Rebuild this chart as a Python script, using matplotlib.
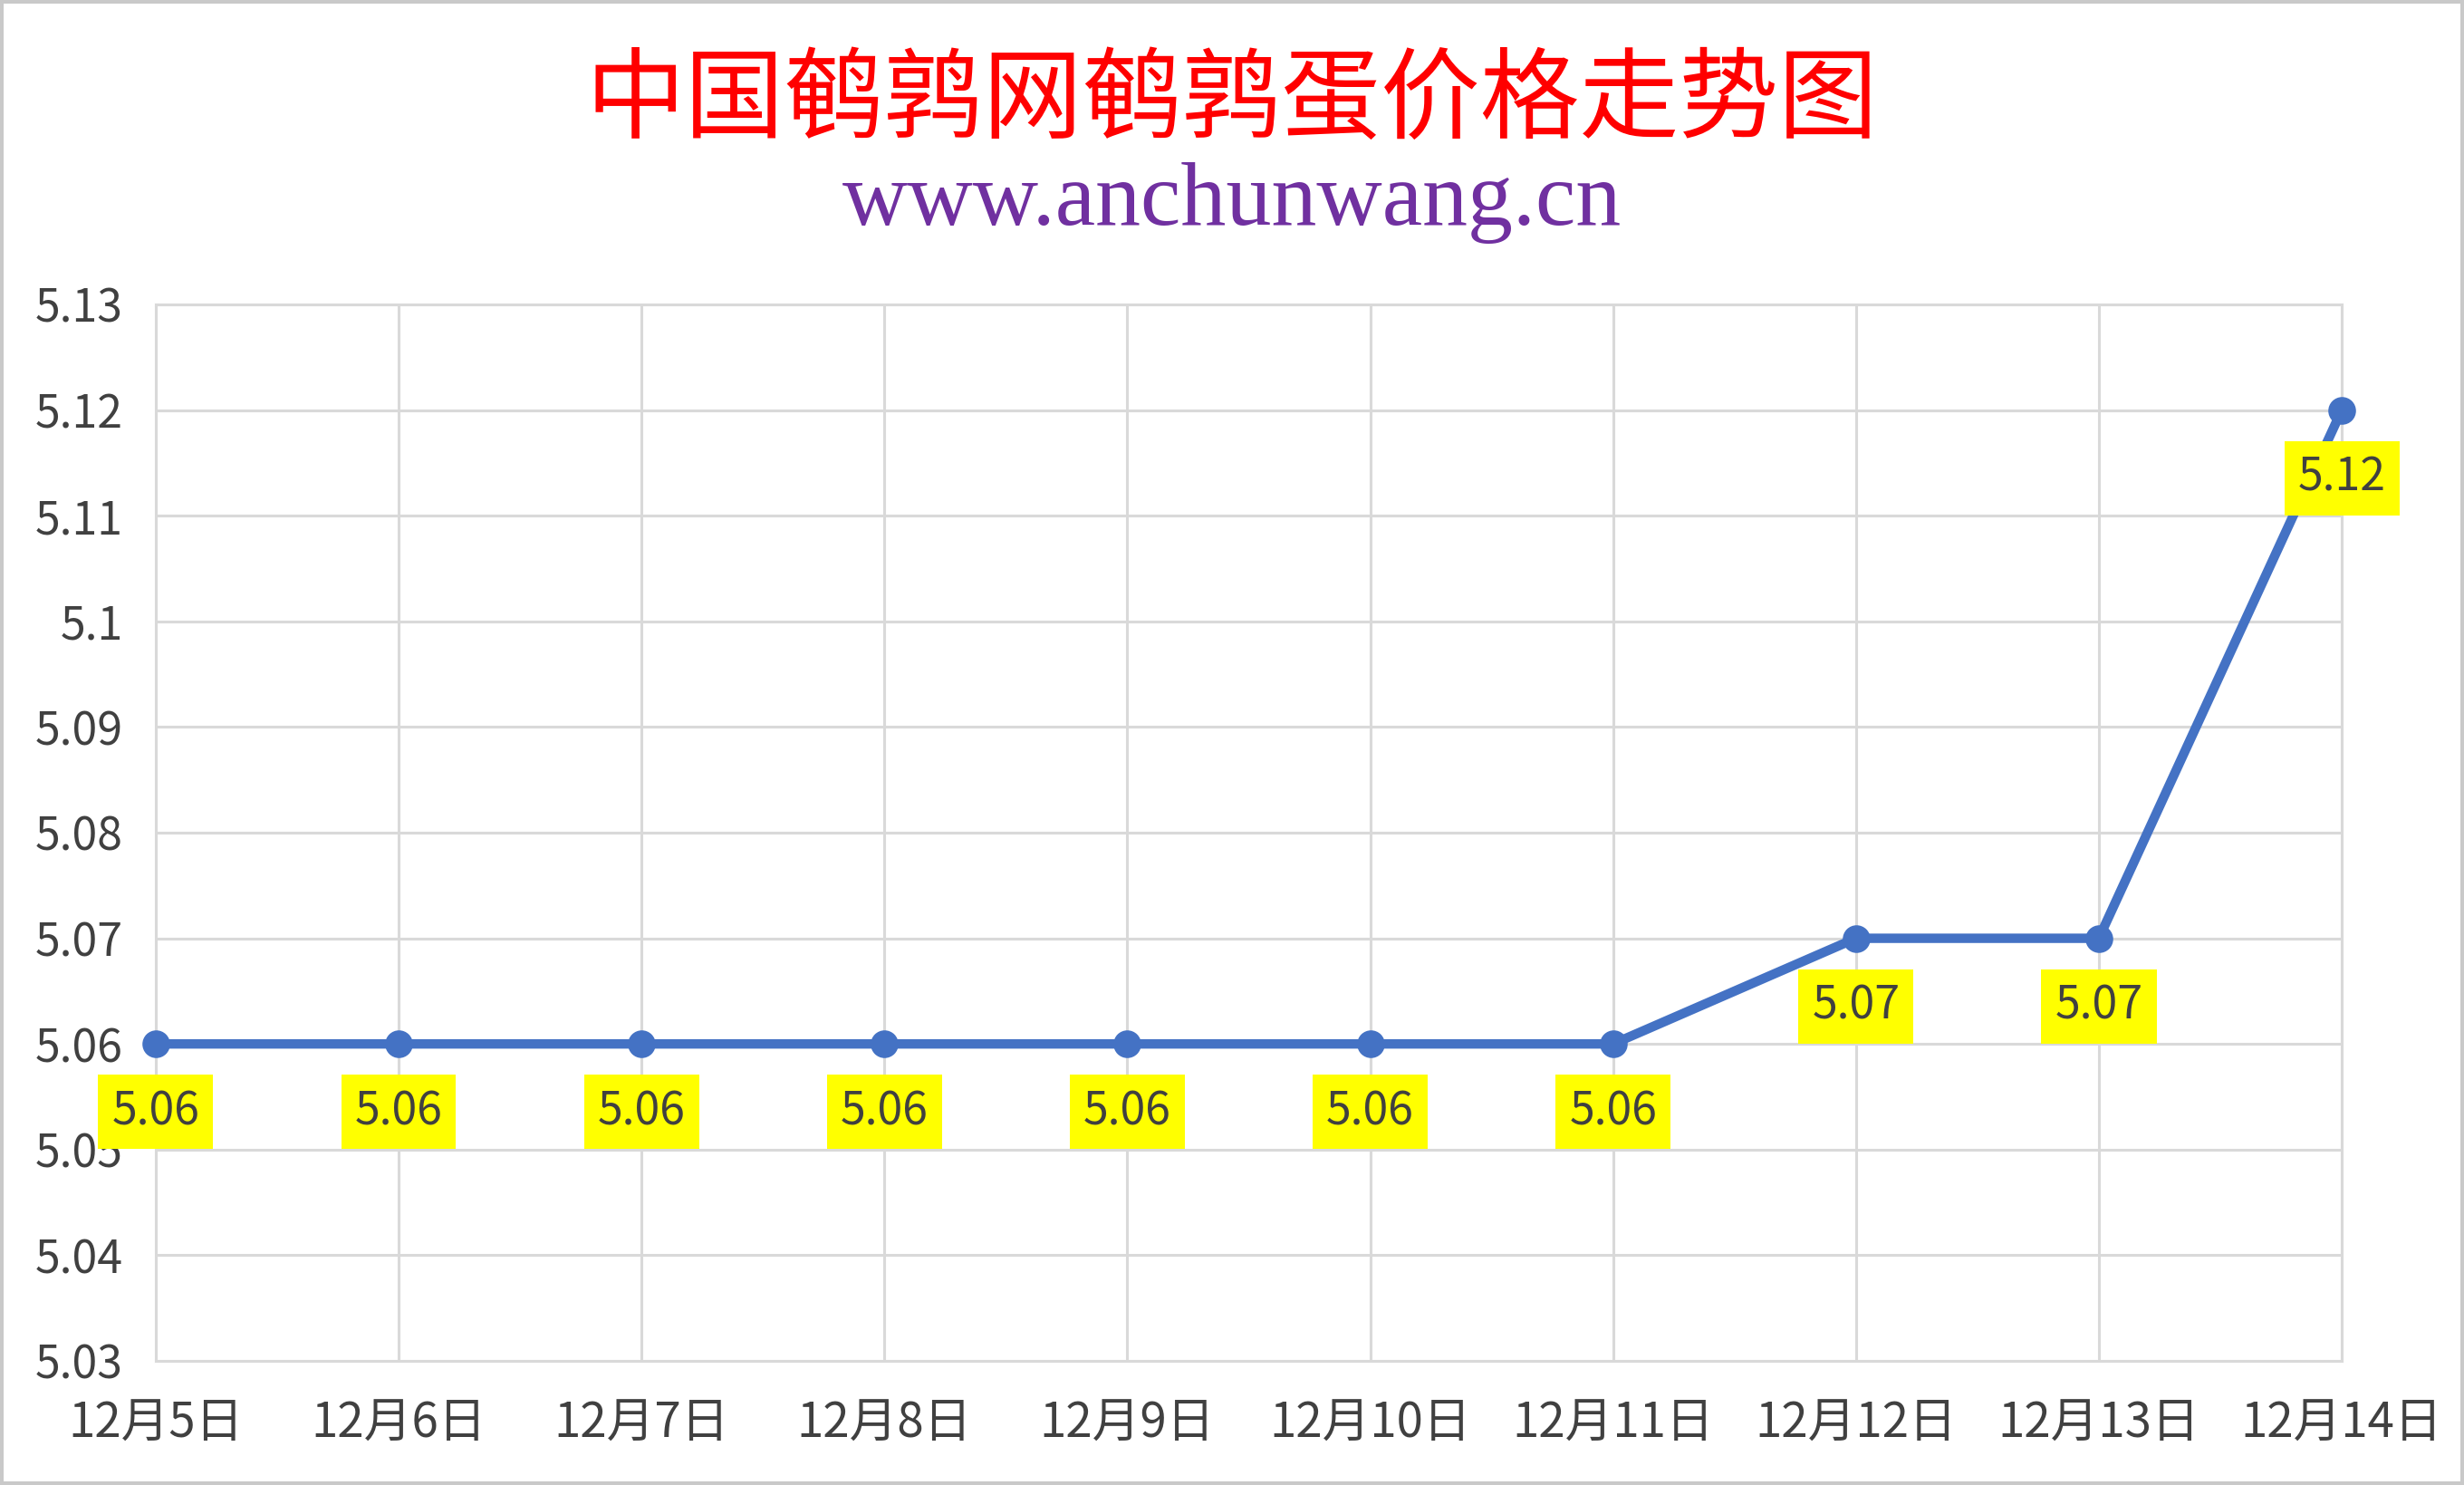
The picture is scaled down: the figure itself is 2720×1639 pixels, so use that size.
import numpy as np
import matplotlib
matplotlib.use("Agg")
import matplotlib.pyplot as plt

plt.rcParams['font.family'] = ['Noto Sans CJK SC', 'DejaVu Sans']

# data
dates = ["12月5日", "12月6日", "12月7日", "12月8日", "12月9日",
         "12月10日", "12月11日", "12月12日", "12月13日", "12月14日"]
prices = [5.06, 5.06, 5.06, 5.06, 5.06, 5.06, 5.06, 5.07, 5.07, 5.12]
yticks = [5.03, 5.04, 5.05, 5.06, 5.07, 5.08, 5.09, 5.10, 5.11, 5.12, 5.13]
ytick_labels = ["5.03", "5.04", "5.05", "5.06", "5.07", "5.08", "5.09",
                "5.1", "5.11", "5.12", "5.13"]

fig = plt.figure(figsize=(13.6, 8.195), dpi=200)
fig.patch.set_facecolor("white")
fig.patch.set_edgecolor("#C9C9C9")
fig.patch.set_linewidth(2.2)

ax = fig.add_axes([0.0632, 0.0836, 0.8872, 0.7114])

x = np.arange(len(dates))
ax.plot(x, prices, color="#4472C4", linewidth=3.75, marker="o",
        markersize=10, clip_on=False, zorder=3)

# yellow value labels under each point
for xi, p in zip(x, prices):
    ax.annotate("%.2f" % p, (xi, p), xytext=(0, -27), textcoords="offset points",
                ha="center", va="center", fontsize=18, color="#404040",
                bbox=dict(boxstyle="square,pad=0.3", facecolor="#FFFF00",
                          edgecolor="none"), zorder=4, annotation_clip=False)

ax.set_xlim(0, len(dates) - 1)
ax.set_ylim(5.03, 5.13)
ax.set_xticks(x)
ax.set_xticklabels(dates)
ax.set_yticks(yticks)
ax.set_yticklabels(ytick_labels)
ax.tick_params(axis="both", length=0, labelsize=18, labelcolor="#404040")
ax.tick_params(axis="x", labelsize=19, pad=15)
ax.tick_params(axis="y", pad=13)

ax.grid(True, color="#D9D9D9", linewidth=1.1)
ax.set_axisbelow(True)
for s in ax.spines.values():
    s.set_color("#D9D9D9")
    s.set_linewidth(1.1)

fig.text(0.5, 0.931, "中国鹌鹑网鹌鹑蛋价格走势图", ha="center", va="center",
         fontsize=39.5, color="#FF0000")
fig.text(0.5, 0.8487, "www.anchunwang.cn", ha="center", va="baseline",
         fontsize=36, color="#7030A0", family="Liberation Serif")

fig.savefig("out.png", dpi=200)
